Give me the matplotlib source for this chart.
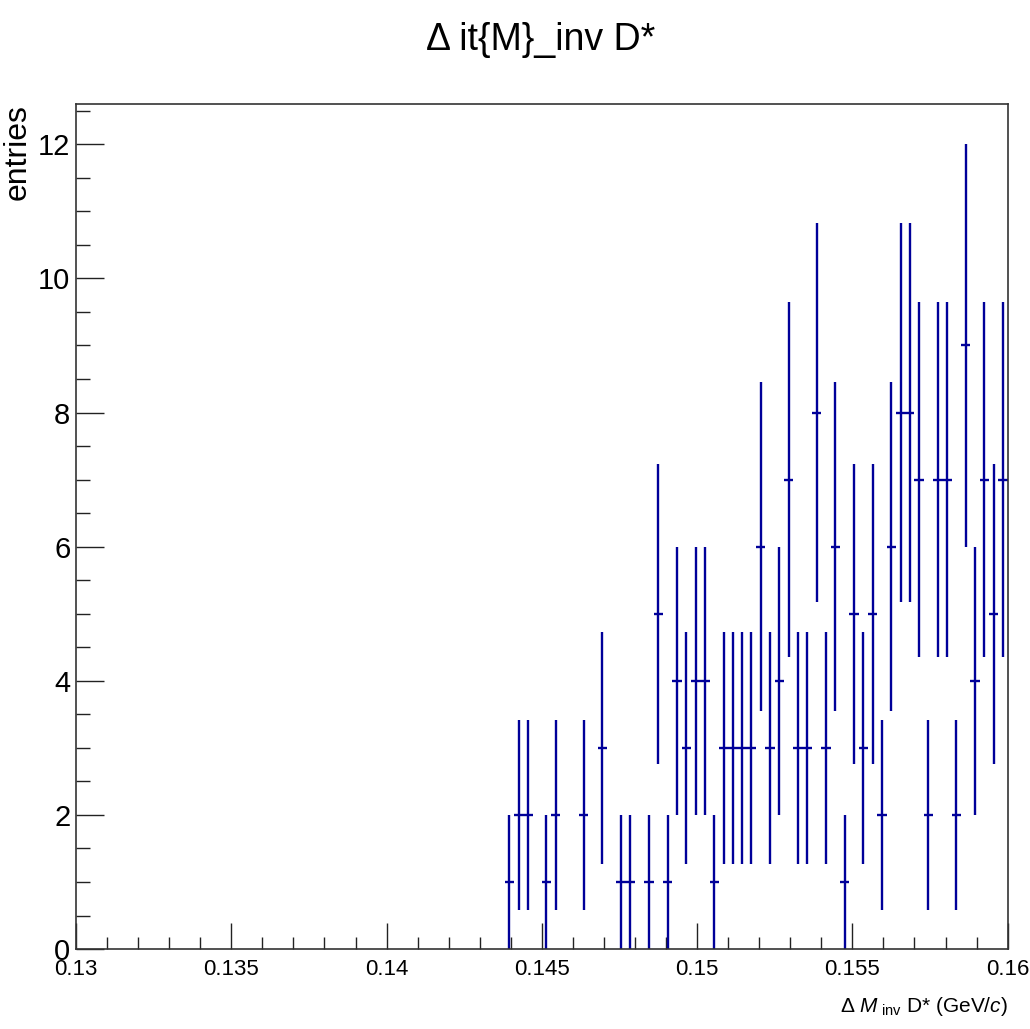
"""
Delta M_inv D* histogram, ROOT style
"""
import matplotlib
matplotlib.use('Agg')
import matplotlib.pyplot as plt
import numpy as np
from matplotlib.ticker import MultipleLocator, FuncFormatter

# histogram: 100 bins between 0.13 and 0.16
x_low, x_high, n_bins = 0.13, 0.16, 100
counts = [0] * n_bins
filled = {46: 1, 47: 2, 48: 2, 50: 1, 51: 2, 54: 2, 56: 3, 58: 1, 59: 1,
          61: 1, 62: 5, 63: 1, 64: 4, 65: 3, 66: 4, 67: 4, 68: 1, 69: 3,
          70: 3, 71: 3, 72: 3, 73: 6, 74: 3, 75: 4, 76: 7, 77: 3, 78: 3,
          79: 8, 80: 3, 81: 6, 82: 1, 83: 5, 84: 3, 85: 5, 86: 2, 87: 6,
          88: 8, 89: 8, 90: 7, 91: 2, 92: 7, 93: 7, 94: 2, 95: 9, 96: 4,
          97: 7, 98: 5, 99: 7}
for k, v in filled.items():
    counts[k] = v

title = "\u0394 it{M}_inv D*"
xlabel = r"$\Delta\ M_{\ \mathrm{inv}}$ D* (GeV/$c$)"
ylabel = "entries"

plt.rcParams['font.family'] = ['Liberation Sans', 'DejaVu Sans']
plt.rcParams['mathtext.fontset'] = 'custom'
plt.rcParams['mathtext.rm'] = 'Liberation Sans'
plt.rcParams['mathtext.it'] = 'Liberation Sans:italic'

fig = plt.figure(figsize=(10.30, 10.29), dpi=100)
ax = fig.add_axes([0.0738, 0.0777, 0.9045, 0.8212])

edges = np.linspace(x_low, x_high, n_bins + 1)
centers = 0.5 * (edges[:-1] + edges[1:])
width = edges[1] - edges[0]
c = np.array(counts, dtype=float)
m = c > 0
ax.errorbar(centers[m], c[m], xerr=width / 2, yerr=np.sqrt(c[m]), fmt='none',
            ecolor='#000099', elinewidth=1.7, capsize=0)

ax.set_xlim(x_low, x_high)
ax.set_ylim(0, 1.05 * (c + np.sqrt(c)).max())

ax.xaxis.set_major_locator(MultipleLocator(0.005))
ax.xaxis.set_minor_locator(MultipleLocator(0.001))
ax.yaxis.set_major_locator(MultipleLocator(2))
ax.yaxis.set_minor_locator(MultipleLocator(0.5))
ax.xaxis.set_major_formatter(FuncFormatter(lambda v, p: '%g' % round(v, 4)))
ax.yaxis.set_major_formatter(FuncFormatter(lambda v, p: '%g' % v))

ax.tick_params(axis='both', which='both', direction='in', top=False, right=False,
               width=1, color='#222222')
ax.tick_params(axis='x', which='major', length=18.7, pad=7, labelsize=16)
ax.tick_params(axis='x', which='minor', length=8.6)
ax.tick_params(axis='y', which='major', length=20, pad=4, labelsize=21)
ax.tick_params(axis='y', which='minor', length=10)
for s in ax.spines.values():
    s.set_linewidth(1.2)
    s.set_color('#333333')

fig.text(0.525, 0.961, title, ha='center', va='center', fontsize=27)
fig.text(0.978, 0.011, xlabel, ha='right', va='bottom', fontsize=15)
fig.text(0.017, 0.899, ylabel, ha='center', va='top', rotation=90, fontsize=23)

fig.savefig('out.png', dpi=100)
plt.close(fig)
